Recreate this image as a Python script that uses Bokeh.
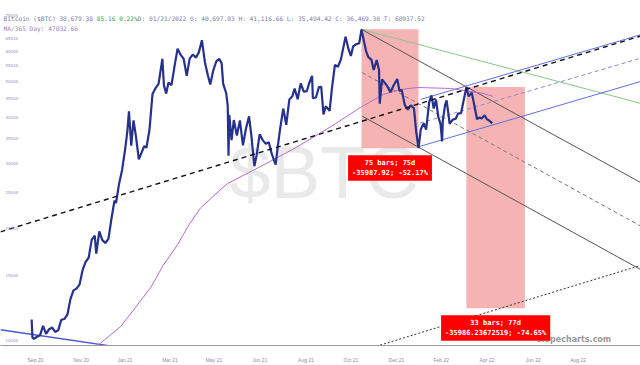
import pandas as pd
from bokeh.plotting import figure
from bokeh.models import Range1d, Label, FixedTicker
from bokeh.core.properties import value
from bokeh.embed import file_html
from bokeh.resources import INLINE

# ---------------- data ----------------
price_dates = [
    "2020-09-02", "2020-09-03", "2020-09-05", "2020-09-09", "2020-09-13", "2020-09-17", "2020-09-21",
    "2020-09-25", "2020-09-29", "2020-10-03", "2020-10-07", "2020-10-11", "2020-10-15", "2020-10-19",
    "2020-10-23", "2020-10-27", "2020-10-31", "2020-11-04", "2020-11-08", "2020-11-12", "2020-11-16",
    "2020-11-20", "2020-11-24", "2020-11-26", "2020-11-30", "2020-12-04", "2020-12-08", "2020-12-12",
    "2020-12-16", "2020-12-20", "2020-12-22", "2020-12-26", "2020-12-30", "2021-01-03", "2021-01-06",
    "2021-01-08", "2021-01-11", "2021-01-14", "2021-01-17", "2021-01-21", "2021-01-25", "2021-01-28",
    "2021-01-31", "2021-02-04", "2021-02-08", "2021-02-12", "2021-02-16", "2021-02-21", "2021-02-23",
    "2021-02-26", "2021-03-01", "2021-03-05", "2021-03-09", "2021-03-13", "2021-03-17", "2021-03-21",
    "2021-03-25", "2021-03-29", "2021-04-02", "2021-04-06", "2021-04-10", "2021-04-14", "2021-04-18",
    "2021-04-22", "2021-04-25", "2021-04-29", "2021-05-03", "2021-05-07", "2021-05-10", "2021-05-12",
    "2021-05-16", "2021-05-18", "2021-05-19", "2021-05-20", "2021-05-23", "2021-05-26", "2021-05-30",
    "2021-06-03", "2021-06-07", "2021-06-11", "2021-06-15", "2021-06-18", "2021-06-22", "2021-06-25",
    "2021-06-29", "2021-07-03", "2021-07-07", "2021-07-11", "2021-07-15", "2021-07-20", "2021-07-23",
    "2021-07-26", "2021-07-30", "2021-08-03", "2021-08-07", "2021-08-11", "2021-08-14", "2021-08-18",
    "2021-08-22", "2021-08-26", "2021-08-30", "2021-09-02", "2021-09-06", "2021-09-07", "2021-09-11",
    "2021-09-15", "2021-09-18", "2021-09-21", "2021-09-24", "2021-09-29", "2021-10-02", "2021-10-06",
    "2021-10-10", "2021-10-14", "2021-10-17", "2021-10-20", "2021-10-24", "2021-10-27", "2021-10-30",
    "2021-11-03", "2021-11-07", "2021-11-10", "2021-11-13", "2021-11-16", "2021-11-19", "2021-11-23",
    "2021-11-26", "2021-11-30", "2021-12-03", "2021-12-04", "2021-12-07", "2021-12-11", "2021-12-14",
    "2021-12-18", "2021-12-22", "2021-12-27", "2021-12-30", "2022-01-02", "2022-01-06", "2022-01-10",
    "2022-01-14", "2022-01-18", "2022-01-21", "2022-01-24", "2022-01-27", "2022-01-31", "2022-02-03",
    "2022-02-07", "2022-02-10", "2022-02-13", "2022-02-16", "2022-02-19", "2022-02-22", "2022-02-24",
    "2022-02-25", "2022-02-28", "2022-03-02", "2022-03-06", "2022-03-10", "2022-03-14", "2022-03-17",
    "2022-03-21", "2022-03-24", "2022-03-28", "2022-03-31", "2022-04-04", "2022-04-07", "2022-04-11",
    "2022-04-14", "2022-04-17", "2022-04-21", "2022-04-24", "2022-04-27", "2022-05-01",
]
price_values = [
    11400, 10200, 10100, 10240, 10330, 10950, 10420,
    10730, 10840, 10550, 10670, 11380, 11430, 11740,
    12930, 13650, 13800, 14150, 15480, 16300, 16720,
    18680, 19170, 17150, 19700, 18650, 18320, 18800,
    21300, 23860, 23480, 26440, 28840, 32780, 36800,
    41500, 33500, 39200, 35800, 30800, 32250, 33400,
    33100, 36930, 46200, 47900, 49200, 57500, 48800,
    46300, 49600, 48800, 54900, 61200, 58900, 57500,
    51700, 57600, 59000, 57900, 59800, 64500, 56200,
    51700, 49000, 53500, 56600, 57400, 55800, 49200,
    46400, 42900, 31500, 40600, 34700, 39300, 35700,
    39200, 33600, 37300, 40200, 35800, 29500, 31600,
    36000, 34700, 33900, 34250, 31800, 29800, 33600,
    37300, 42200, 38150, 44600, 45590, 47800, 44700,
    49300, 46900, 47000, 49300, 51700, 45000, 45200,
    48200, 48300, 40700, 42800, 41600, 47700, 55300,
    54700, 57350, 61500, 65900, 60900, 58500, 62100,
    62900, 63300, 68990, 64400, 60300, 58100, 57200,
    53600, 57000, 53600, 43500, 50600, 49400, 48400,
    46700, 48600, 50700, 47100, 47300, 43100, 41900,
    43100, 42250, 36500, 33000, 37100, 38500, 37000,
    43850, 45800, 42200, 44600, 40100, 38300, 34400,
    39200, 43200, 44400, 38400, 39400, 39600, 40900,
    41000, 44000, 48200, 45500, 46600, 43500, 39500,
    39900, 39700, 40500, 39500, 39200, 38500,
]

ma_dates = [
    "2020-11-19", "2020-12-12", "2020-12-28", "2021-01-16", "2021-02-06", "2021-02-22", "2021-03-13",
    "2021-03-27", "2021-04-12", "2021-04-29", "2021-05-18", "2021-06-10", "2021-06-30", "2021-08-13",
    "2021-09-30", "2021-11-09", "2021-12-09", "2021-12-31", "2022-01-23", "2022-03-07", "2022-04-19",
    "2022-05-02",
]
ma_values = [
    9350, 10250, 10900, 12240, 13930, 15940, 18130,
    20370, 22750, 24490, 26520, 28030, 29440, 32880,
    37630, 42540, 46070, 47510, 48090, 47800, 46360,
    45510,
]

# measured boxes (start/end, high/low) and their readouts
box_start = ["2021-11-10", "2022-03-28"]
box_end = ["2022-01-24", "2022-06-13"]
box_high = [68990.0, 48207.0]
box_low = [33002.0, 12221.0]
box_bars = [75, 33]
box_days = [75, 77]
box_change = ["-35987.92", "-35986.23672519"]
box_pct = ["-52.17%", "-74.65%"]

# drawn trend lines: (dates, prices)
dashed_trend_dates = ["2020-07-23", "2022-11-12"]
dashed_trend_prices = [19640, 66170]
dotted_trend_dates = ["2021-09-30", "2022-11-12"]
dotted_trend_prices = [8845, 15940]
base_line_dates = ["2020-07-23", "2020-12-28"]
base_line_prices = [10698, 9580]
fork_upper_dates = ["2021-11-10", "2022-11-12"]
fork_upper_prices = [68990, 26690]
fork_mid_dates = ["2021-11-11", "2022-11-12"]
fork_mid_prices = [52730, 20370]
fork_lower_dates = ["2021-11-11", "2022-11-12"]
fork_lower_prices = [40250, 15550]
green_line_dates = ["2021-11-10", "2022-11-12"]
green_line_prices = [68990, 43600]
chan_upper_dates = ["2022-01-27", "2022-11-12"]
chan_upper_prices = [44680, 66690]
chan_mid_dates = ["2022-01-26", "2022-11-12"]
chan_mid_prices = [38560, 57670]
chan_lower_dates = ["2022-01-24", "2022-11-12"]
chan_lower_prices = [33290, 49900]

y_ticks = [10000, 15000, 20000, 25000, 30000, 35000, 40000, 45000, 50000, 55000, 60000, 65000, 75000]
x_tick_dates = ["2020-09-07", "2020-11-06", "2021-01-03", "2021-03-03", "2021-04-30", "2021-06-29",
                "2021-08-29", "2021-10-27", "2021-12-26", "2022-02-23", "2022-04-24", "2022-06-24",
                "2022-08-22"]
x_tick_labels = ["Sep 20", "Nov 20", "Jan 21", "Mar 21", "May 21", "Jun 21", "Aug 21", "Oct 21",
                 "Dec 21", "Feb 22", "Apr 22", "Jun 22", "Aug 22"]

title_parts = [("Bitcoin ($BTC) 38,679.38 ", "#7c7ca6"), ("85.16 0.22%", "#3aa63a"),
               (" D: 01/21/2022 O: 40,697.03 H: 41,116.66 L: 35,494.42 C: 36,469.30 T:  68937.52", "#7c7ca6")]
ma_legend = "MA/365 Day: 47832.66"
site_mark = "slopecharts.com"
site_mark_date = "2022-06-29"
site_mark_price = 9760

# ---------------- figure ----------------
W, H = 640, 365
p = figure(width=W, height=H, x_axis_type="datetime", y_axis_type="log",
           x_range=Range1d(pd.Timestamp("2020-07-23"), pd.Timestamp("2022-11-12 02:00")),
           y_range=Range1d(9698, 82520),
           output_backend="svg", toolbar_location=None, y_axis_location=None,
           min_border_left=0, min_border_right=0, min_border_top=0, min_border_bottom=16)
p.outline_line_color = None
p.xgrid.visible = False
p.ygrid.visible = False
p.background_fill_color = "white"

ticks_ms = [int(pd.Timestamp(d).value // 10**6) for d in x_tick_dates]
p.xaxis.ticker = FixedTicker(ticks=ticks_ms)
p.xaxis.major_label_overrides = {t: lab for t, lab in zip(ticks_ms, x_tick_labels)}
p.xaxis.axis_line_color = "#9a9a9a"
p.xaxis.major_tick_line_color = None
p.xaxis.minor_tick_line_color = None
p.xaxis.major_label_text_font_size = "5px"
p.xaxis.major_label_text_color = "#8a8aa8"
p.xaxis.major_label_standoff = 5

# watermark
p.add_layout(Label(x=229, y=173, x_units="screen", y_units="screen", text="$BTC",
                   text_font="Liberation Sans", text_font_size="74px", text_color="#e9e9e9",
                   text_baseline="middle", level="underlay"))

# boxes
p.quad(left=pd.to_datetime(box_start), right=pd.to_datetime(box_end), top=box_high, bottom=box_low,
       fill_color="#f4a0a0", fill_alpha=0.8, line_color=None)

def seg(dates, prices, **kw):
    p.line(pd.to_datetime(dates), prices, **kw)

seg(base_line_dates, base_line_prices, line_color="#4a5ad0", line_width=1.4)
seg(green_line_dates, green_line_prices, line_color="#88c888", line_width=1)
seg(fork_upper_dates, fork_upper_prices, line_color="#555555", line_width=1)
seg(fork_mid_dates, fork_mid_prices, line_color="#777777", line_width=1, line_dash="4 3")
seg(fork_lower_dates, fork_lower_prices, line_color="#555555", line_width=1)
seg(chan_upper_dates, chan_upper_prices, line_color="#5f6fe0", line_width=1)
seg(chan_mid_dates, chan_mid_prices, line_color="#8a8ad0", line_width=1, line_dash="4 3")
seg(chan_lower_dates, chan_lower_prices, line_color="#5f6fe0", line_width=1)
seg(dotted_trend_dates, dotted_trend_prices, line_color="#333333", line_width=1, line_dash="2 2")
seg(ma_dates, ma_values, line_color="#b86ad0", line_width=1)

# price
p.line(pd.to_datetime(price_dates), price_values, line_color="#26318c", line_width=2.2)

seg(dashed_trend_dates, dashed_trend_prices, line_color="#111111", line_width=1.4, line_dash="5 4")

# box readouts
for s, e, lo, b, d, c, pc in zip(box_start, box_end, box_low, box_bars, box_days, box_change, box_pct):
    mid = pd.Timestamp(s) + (pd.Timestamp(e) - pd.Timestamp(s)) / 2
    p.add_layout(Label(x=mid, y=lo, y_offset=-7, text=f"{b} bars; {d}d\n{c}; {pc}",
                       text_align="center", text_baseline="top",
                       text_font="DejaVu Sans Mono", text_font_style="bold", text_font_size="7px",
                       text_color="white", background_fill_color="#ff0000", padding=4))

# site mark (drawn as a text glyph at its data position)
p.text(x=[pd.Timestamp(site_mark_date)], y=[site_mark_price], text=[site_mark],
       text_font=value("DejaVu Sans"), text_font_style="bold", text_font_size="8px",
       text_color="#9a9a9a", text_baseline="bottom", text_align="left")

# y tick labels inside plot
for v in y_ticks:
    p.add_layout(Label(x=5, x_units="screen", y=v, text=str(v), text_baseline="middle",
                       text_font="DejaVu Sans", text_font_size="4px", text_color="#9494c4"))

# header text
cw = 0.602 * 6.2
off = 0
for txt, col in title_parts:
    p.add_layout(Label(x=3 + off * cw, y=327, x_units="screen", y_units="screen", text=txt,
                       text_baseline="middle", text_font="DejaVu Sans Mono", text_font_size="6.2px",
                       text_color=col))
    off += len(txt)
p.add_layout(Label(x=3, y=317, x_units="screen", y_units="screen", text=ma_legend,
                   text_baseline="middle", text_font="DejaVu Sans Mono", text_font_size="6.2px",
                   text_color="#a080c8"))

open("out.html", "w").write(file_html(p, INLINE))
